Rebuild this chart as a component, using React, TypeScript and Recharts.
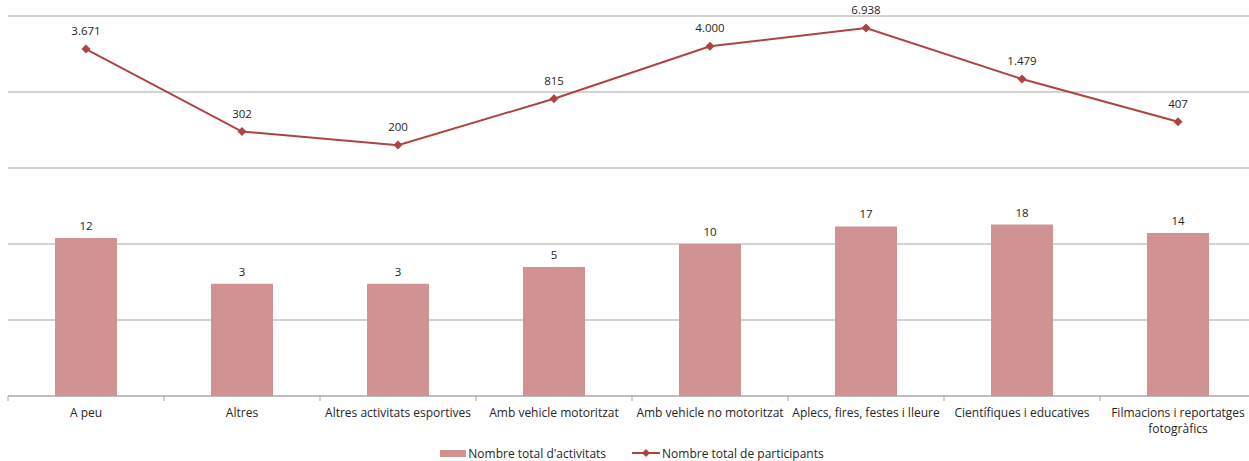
import React from 'react'
import { ComposedChart, Bar, Line, XAxis, YAxis, CartesianGrid, Legend, LabelList, Text } from 'recharts'

const categories = [
  'A peu',
  'Altres',
  'Altres activitats esportives',
  'Amb vehicle motoritzat',
  'Amb vehicle no motoritzat',
  'Aplecs, fires, festes i lleure',
  'Científiques i educatives',
  'Filmacions i reportatges fotogràfics',
]
const activitats = [12, 3, 3, 5, 10, 17, 18, 14]
const participants = [3671, 302, 200, 815, 4000, 6938, 1479, 407]
const logTicks = [0.1, 1, 10, 100, 1000, 10000]

const BAR_COLOR = '#D09292'
const LINE_COLOR = '#AD4343'
const TEXT_COLOR = '#262626'
const GRID_COLOR = '#A6A6A6'
const FONT = '"Open Sans", "Noto Sans", sans-serif'

const CHART_W = 1262
const CHART_H = 461
const MARGIN = { top: 16, right: 6, left: 8, bottom: 0 }
const BAND = (CHART_W - MARGIN.left - MARGIN.right) / categories.length

const data = categories.map((name, i) => ({
  name,
  activitats: activitats[i],
  participants: participants[i],
}))

const fmt = (v: number) => String(v).replace(/\B(?=(\d{3})+(?!\d))/g, '.')

const CategoryTick = (props: any) => {
  const { x, y, payload } = props
  const left = x - BAND / 2
  return (
    <g>
      <line x1={left} y1={y - 8} x2={left} y2={y - 3} stroke={GRID_COLOR} />
      <Text
        x={x}
        y={y + 4}
        width={185}
        textAnchor="middle"
        verticalAnchor="start"
        lineHeight={16}
        fontSize={12}
        fontFamily={FONT}
        fill={TEXT_COLOR}
      >
        {payload.value}
      </Text>
    </g>
  )
}

const Diamond = (props: any) => {
  const { cx, cy } = props
  if (cx == null || cy == null) return null
  const s = 4.5
  return (
    <polygon
      points={`${cx},${cy - s} ${cx + s},${cy} ${cx},${cy + s} ${cx - s},${cy}`}
      fill={LINE_COLOR}
    />
  )
}

const valueLabel = (offset: number) => (props: any) => {
  const { x, y, width, value } = props
  const cx = width != null ? x + width / 2 : x
  return (
    <text
      x={cx}
      y={y - offset}
      textAnchor="middle"
      fontSize={11.5}
      fontFamily={FONT}
      fill={TEXT_COLOR}
    >
      {fmt(value)}
    </text>
  )
}

const LegendContent = () => (
  <div
    style={{
      display: 'flex',
      justifyContent: 'center',
      alignItems: 'center',
      gap: 26,
      height: 24,
      paddingTop: 4,
      fontSize: 12,
      fontFamily: FONT,
      color: TEXT_COLOR,
    }}
  >
    <span style={{ display: 'flex', alignItems: 'center' }}>
      <span style={{ display: 'inline-block', width: 26, height: 7, background: BAR_COLOR, marginRight: 2 }} />
      Nombre total d'activitats
    </span>
    <span style={{ display: 'flex', alignItems: 'center' }}>
      <svg width={28} height={10} style={{ marginRight: 2 }}>
        <line x1={0} y1={5} x2={28} y2={5} stroke={LINE_COLOR} strokeWidth={2} />
        <polygon points="14,1 18,5 14,9 10,5" fill={LINE_COLOR} />
      </svg>
      Nombre total de participants
    </span>
  </div>
)

export default function App() {
  return (
    <div style={{ position: 'absolute', left: 0, top: 0, width: 1249, height: 461, overflow: 'hidden', background: '#fff' }}>
      <ComposedChart width={CHART_W} height={CHART_H} data={data} margin={MARGIN}>
        <CartesianGrid vertical={false} stroke={GRID_COLOR} />
        <XAxis
          dataKey="name"
          height={41}
          interval={0}
          tickLine={false}
          axisLine={{ stroke: GRID_COLOR }}
          tick={<CategoryTick />}
        />
        <YAxis scale="log" domain={[0.1, 10000]} ticks={logTicks} allowDataOverflow hide />
        <Legend verticalAlign="bottom" height={24} content={<LegendContent />} />
        <Bar dataKey="activitats" fill={BAR_COLOR} barSize={62} isAnimationActive={false}>
          <LabelList dataKey="activitats" content={valueLabel(8)} />
        </Bar>
        <Line
          dataKey="participants"
          stroke={LINE_COLOR}
          strokeWidth={2}
          dot={<Diamond />}
          activeDot={false}
          isAnimationActive={false}
        >
          <LabelList dataKey="participants" content={valueLabel(14)} />
        </Line>
      </ComposedChart>
    </div>
  )
}
